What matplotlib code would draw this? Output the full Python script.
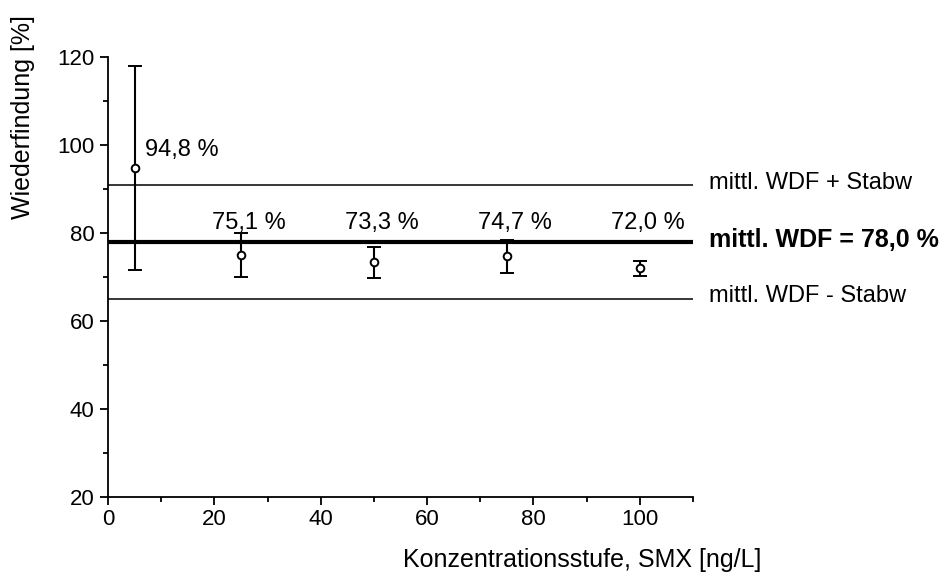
import matplotlib
matplotlib.use('Agg')
import matplotlib.pyplot as plt
from matplotlib.ticker import MultipleLocator

plt.rcParams['font.family'] = ['Liberation Sans', 'DejaVu Sans']

# Konzentrationsstufen und Wiederfindungen
conc = [5, 25, 50, 75, 100]
wdf = [94.8, 75.1, 73.3, 74.7, 72.0]
stabw = [23.2, 5.0, 3.6, 3.7, 1.7]
labels = ['94,8 %', '75,1 %', '73,3 %', '74,7 %', '72,0 %']

wdf_mean = 78.0
wdf_sd = 12.9

fig = plt.figure(figsize=(9.53, 5.81), dpi=100)
ax = fig.add_axes([0.1133, 0.1446, 0.6139, 0.7573])

ax.axhline(wdf_mean + wdf_sd, color='k', lw=1.1)
ax.axhline(wdf_mean, color='k', lw=3.0)
ax.axhline(wdf_mean - wdf_sd, color='k', lw=1.1)

ax.errorbar(conc, wdf, yerr=stabw, fmt='o', color='k', mfc='white', mec='k',
            ms=5.5, mew=1.4, elinewidth=1.5, capsize=5, capthick=1.5, zorder=5)

# Beschriftung der Messpunkte
ax.text(conc[0] + 2.0, wdf[0] + 2.6, labels[0], fontsize=17, va='baseline')
for x, lab in zip(conc[1:], labels[1:]):
    ax.text(x + 1.5, 81.0, lab, fontsize=17, ha='center', va='baseline')

ax.text(113.0, wdf_mean + wdf_sd + 0.5, 'mittl. WDF + Stabw', fontsize=17,
        va='center', clip_on=False)
ax.text(113.0, wdf_mean + 0.5, 'mittl. WDF = 78,0 %', fontsize=18, fontweight='bold',
        va='center', clip_on=False)
ax.text(113.0, wdf_mean - wdf_sd + 0.5, 'mittl. WDF - Stabw', fontsize=17,
        va='center', clip_on=False)

ax.set_xlim(0, 110)
ax.set_ylim(20, 120)
ax.xaxis.set_major_locator(MultipleLocator(20))
ax.xaxis.set_minor_locator(MultipleLocator(10))
ax.yaxis.set_major_locator(MultipleLocator(20))
ax.yaxis.set_minor_locator(MultipleLocator(10))

for s in ['top', 'right']:
    ax.spines[s].set_visible(False)
for s in ['left', 'bottom']:
    ax.spines[s].set_linewidth(1.3)

ax.tick_params(which='major', length=5.8, width=1.3, labelsize=16)
ax.tick_params(axis='y', which='major', pad=4)
ax.tick_params(axis='x', which='major', pad=3)
ax.tick_params(which='minor', length=3.6, width=1.3)

fig.text(0.024, 0.799, 'Wiederfindung [%]', fontsize=18, rotation=90,
         ha='center', va='center')
fig.text(0.423, 0.024, 'Konzentrationsstufe, SMX [ng/L]', fontsize=18,
         ha='left', va='baseline')

plt.savefig('out.png', dpi=100)
